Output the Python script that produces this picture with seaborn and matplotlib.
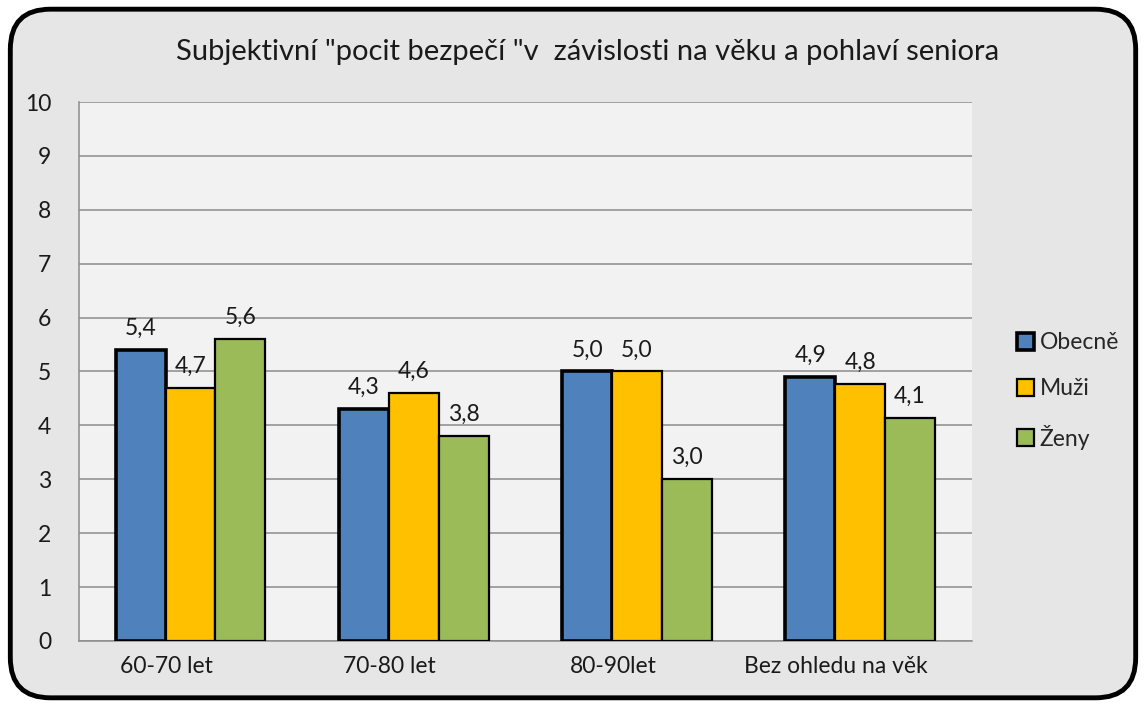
import matplotlib
matplotlib.use("Agg")
import matplotlib.pyplot as plt
import matplotlib.transforms as mtransforms
from matplotlib.patches import FancyBboxPatch, Patch
import seaborn as sns
import pandas as pd

categories = ["60-70 let", "70-80 let", "80-90let", "Bez ohledu na věk"]
series_names = ["Obecně", "Muži", "Ženy"]
obecne = [5.4, 4.3, 5.0, 4.9]
muzi = [4.7, 4.6, 5.0, 4.77]
zeny = [5.6, 3.8, 3.0, 4.13]
title = 'Subjektivní "pocit bezpečí "v  závislosti na věku a pohlaví seniora'
colors = ["#4f81bd", "#ffc000", "#9bbb59"]

sns.set_theme(style="white")
plt.rcParams["font.family"] = ["Lato", "DejaVu Sans"]

rows = []
for name, vals in zip(series_names, [obecne, muzi, zeny]):
    for c, v in zip(categories, vals):
        rows.append({"cat": c, "series": name, "value": v})
df = pd.DataFrame(rows)

fig = plt.figure(figsize=(11.46, 7.07), dpi=100)
fig.patch.set_facecolor("white")
border = FancyBboxPatch((0.009, 0.013), 0.982, 0.974,
                        boxstyle="round,pad=0,rounding_size=0.035",
                        transform=fig.transFigure, facecolor="#e6e6e6",
                        edgecolor="black", linewidth=3.5, zorder=-10,
                        mutation_aspect=1146/707)
fig.patches.append(border)

ax = fig.add_axes([0.0689, 0.0934, 0.848 - 0.0689, 0.8557 - 0.0934])
ax.set_facecolor("#f2f2f2")

sns.barplot(data=df, x="cat", y="value", hue="series", hue_order=series_names,
            palette=colors, width=0.67, gap=0, ax=ax, legend=False,
            saturation=1, zorder=3)

lws = [2.6, 1.6, 1.6]
for cont, lw in zip(ax.containers, lws):
    for bar in cont:
        bar.set_edgecolor("black")
        bar.set_linewidth(lw)
    labels = [f"{b.get_height():.1f}".replace(".", ",") for b in cont]
    ax.bar_label(cont, labels=labels, padding=8, fontsize=16.5, color="#1a1a1a")

ax.set_ylim(0, 10)
ax.set_xlim(-0.5, 3.5)
ax.set_yticks(range(0, 11))
ax.yaxis.grid(True, color="#8c8c8c", linewidth=1.1, zorder=0)
ax.set_axisbelow(True)
for s in ["top", "right"]:
    ax.spines[s].set_visible(False)
for s in ["left", "bottom"]:
    ax.spines[s].set_color("#8c8c8c")
    ax.spines[s].set_linewidth(1.1)
ax.tick_params(axis="y", length=0, pad=20, labelsize=16.5, labelcolor="#1a1a1a")
ax.tick_params(axis="x", length=0, pad=11, labelsize=16.5, labelcolor="#1a1a1a")
ax.set_xlabel("")
ax.set_ylabel("")
off = mtransforms.ScaledTranslation(-24 / 100, 0, fig.dpi_scale_trans)
for lbl in ax.get_xticklabels():
    lbl.set_transform(lbl.get_transform() + off)

fig.text(0.513, 0.926, title, ha="center", va="center", fontsize=21, color="#1a1a1a")

handles = [Patch(facecolor=c, edgecolor="black", linewidth=lw) for c, lw in zip(colors, lws)]
fig.legend(handles, series_names, loc="center left", bbox_to_anchor=(0.887, 0.447),
           frameon=False, fontsize=16.5, handlelength=0.75, handleheight=0.75,
           handletextpad=0.25, labelspacing=1.1, borderpad=0, borderaxespad=0)

fig.savefig("out.png", dpi=100, facecolor=fig.get_facecolor())
